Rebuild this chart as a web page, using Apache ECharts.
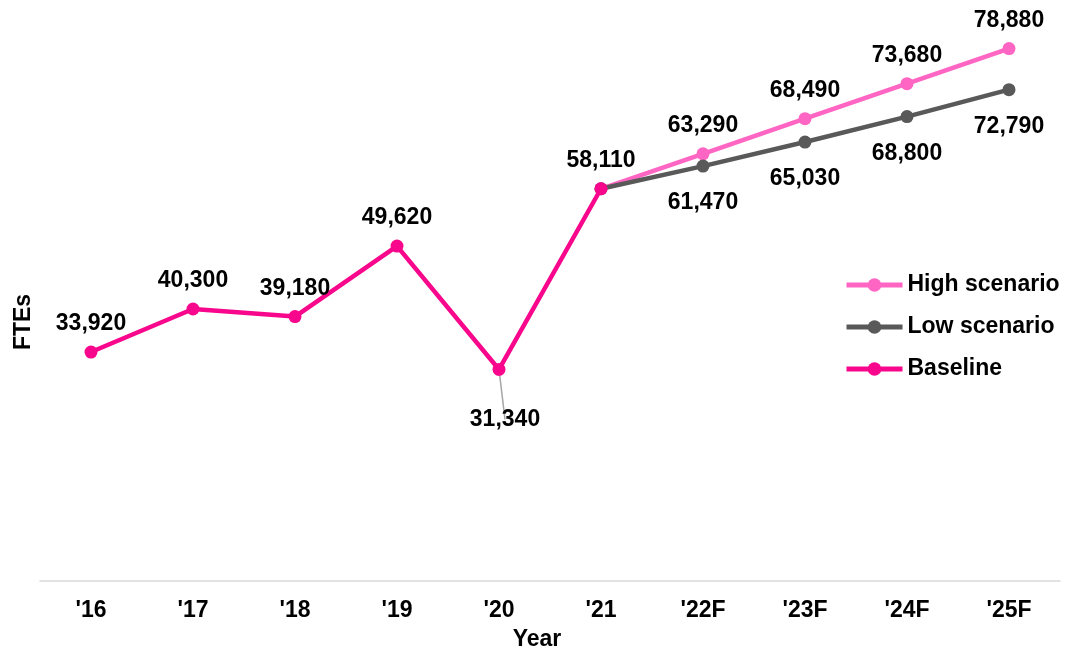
<!DOCTYPE html>
<html>
<head>
<meta charset="utf-8">
<script src="https://cdn.jsdelivr.net/npm/echarts@6/dist/echarts.min.js"></script>
<style>
  html, body { margin: 0; padding: 0; background: #fff; }
  #chart { width: 1067px; height: 653px; }
</style>
</head>
<body>
<div id="chart"></div>
<script>
  // categories and values
  const years = ["'16", "'17", "'18", "'19", "'20", "'21", "'22F", "'23F", "'24F", "'25F"];
  const baseline = [33920, 40300, 39180, 49620, 31340, 58110, null, null, null, null];
  const highScenario = [null, null, null, null, null, 58110, 63290, 68490, 73680, 78880];
  const lowScenario = [null, null, null, null, null, 58110, 61470, 65030, 68800, 72790];

  const fontFamily = '"Liberation Sans", Arial, sans-serif';
  const fontSize = 23;
  const fmt = v => v.toLocaleString('en-US');

  const labelStyle = {
    show: true,
    fontFamily: fontFamily,
    fontSize: fontSize,
    fontWeight: 'bold',
    color: '#000'
  };

  const chart = echarts.init(document.getElementById('chart'), null, { renderer: 'canvas' });

  // baseline points, the dip in '20 gets its label below with a leader line
  const baselineData = baseline.map((v, i) => {
    if (i === 4) {
      return {
        value: v,
        label: { position: 'bottom', distance: 32, offset: [6, 0] },
        labelLine: { show: true, lineStyle: { color: '#a6a6a6', width: 1.5 } }
      };
    }
    return v;
  });

  const option = {
    animation: false,
    grid: { left: 40, right: 7, top: 41, bottom: 72, containLabel: false, outerBoundsMode: 'none' },
    legend: {
      orient: 'vertical',
      left: 839,
      top: 268,
      itemWidth: 56,
      itemHeight: 17,
      itemGap: 18,
      data: ['High scenario', 'Low scenario', 'Baseline'],
      lineStyle: { width: 5 },
      textStyle: { fontFamily: fontFamily, fontSize: fontSize, fontWeight: 'bold', color: '#000', lineHeight: 24 }
    },
    xAxis: {
      type: 'category',
      data: years,
      boundaryGap: true,
      name: 'Year',
      nameLocation: 'middle',
      nameGap: 47,
      nameTextStyle: { fontFamily: fontFamily, fontSize: fontSize, fontWeight: 'bold', color: '#000', padding: [0, 26, 0, 0] },
      axisLine: { lineStyle: { color: '#d9d9d9', width: 1.5 } },
      axisTick: { show: false },
      axisLabel: { fontFamily: fontFamily, fontSize: fontSize, fontWeight: 'bold', color: '#000', margin: 18 }
    },
    yAxis: {
      type: 'value',
      min: 0,
      max: 80000,
      name: 'FTEs',
      nameLocation: 'middle',
      nameGap: 5,
      nameTextStyle: { fontFamily: fontFamily, fontSize: fontSize, fontWeight: 'bold', color: '#000', padding: [0, 22, 0, 0] },
      axisLine: { show: false },
      axisTick: { show: false },
      axisLabel: { show: false },
      splitLine: { show: false }
    },
    series: [
      {
        name: 'High scenario',
        type: 'line',
        data: highScenario,
        symbol: 'circle',
        symbolSize: 13,
        z: 2,
        lineStyle: { width: 4.5, color: '#ff66c4' },
        itemStyle: { color: '#ff66c4' },
        label: Object.assign({}, labelStyle, {
          position: 'top',
          distance: 10,
          formatter: p => (p.dataIndex === 5 ? '' : fmt(p.value))
        })
      },
      {
        name: 'Low scenario',
        type: 'line',
        data: lowScenario,
        symbol: 'circle',
        symbolSize: 13,
        z: 2,
        lineStyle: { width: 4.5, color: '#595959' },
        itemStyle: { color: '#595959' },
        label: Object.assign({}, labelStyle, {
          position: 'bottom',
          distance: 19,
          formatter: p => (p.dataIndex === 5 ? '' : fmt(p.value))
        })
      },
      {
        name: 'Baseline',
        type: 'line',
        data: baselineData,
        symbol: 'circle',
        symbolSize: 13,
        z: 3,
        lineStyle: { width: 4.5, color: '#f8068c' },
        itemStyle: { color: '#f8068c' },
        label: Object.assign({}, labelStyle, {
          position: 'top',
          distance: 10,
          formatter: p => fmt(p.value)
        })
      }
    ]
  };

  chart.setOption(option);
</script>
</body>
</html>
